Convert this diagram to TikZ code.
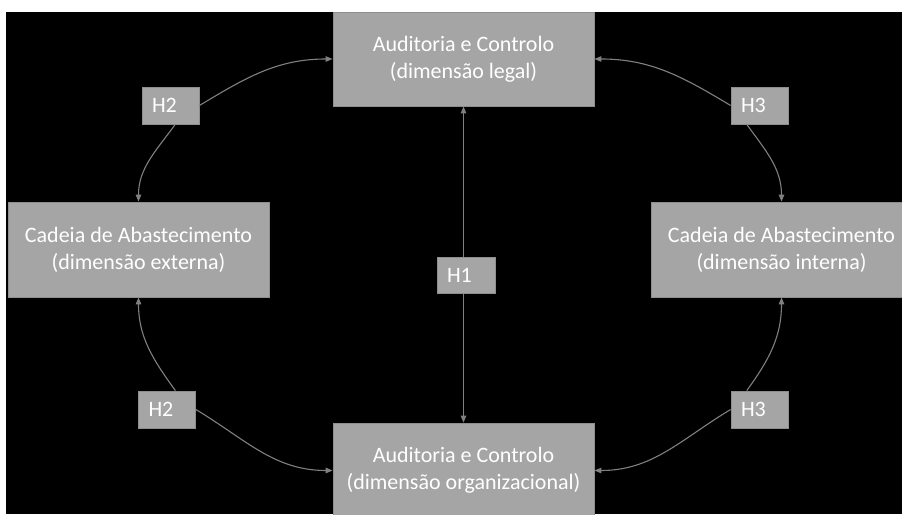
\documentclass[tikz,border=0pt]{standalone}
\usepackage{fontspec}
\setmainfont{Carlito}
\usetikzlibrary{arrows.meta}
\definecolor{boxgray}{HTML}{A5A5A5}
\definecolor{edgegray}{HTML}{8E8E8E}
\definecolor{linegray}{HTML}{808080}
\begin{document}
\begin{tikzpicture}[x=1pt,y=-1pt,
  labelfont/.style={font=\fontsize{22}{27}\selectfont},
  dimbox/.style={labelfont, draw=edgegray, line width=0.8pt, fill=boxgray, text=white,
    minimum width=261pt, minimum height=95pt, align=center, inner sep=0pt},
  hbox/.style={labelfont, draw=edgegray, line width=0.8pt, fill=boxgray, text=white,
    text width=37pt, align=left, inner xsep=10pt, inner ysep=0pt, minimum height=37pt},
  tip/.tip={Triangle[length=7pt,width=5.5pt]},
  link/.style={draw=linegray, line width=1.1pt, -tip},
  twoway/.style={draw=linegray, line width=1.1pt, tip-tip},
]
% canvas
\useasboundingbox (0,0) rectangle (902,514);
\clip (0,0) rectangle (902,514);
\fill[white] (0,0) rectangle (902,514);
\fill[black] (6,12) rectangle (902,514);

% the four dimensions
\node[dimbox, minimum height=94pt] (ac) at (463.5,59) {Auditoria e Controlo\\(dimensão legal)};
\node[dimbox] (cab) at (138.5,249.5) {Cadeia de Abastecimento\\(dimensão externa)};
\node[dimbox] (cai) at (781.5,249.5) {Cadeia de Abastecimento\\(dimensão interna)};
\node[dimbox] (ao) at (463.5,470.5) {Auditoria e Controlo\\(dimensão organizacional)};

% hypothesis labels
\node[hbox] (h2a) at (170.5,105.5) {H2};
\node[hbox] (h3a) at (759.5,105.5) {H3};
\node[hbox] (h2b) at (167,409.5) {H2};
\node[hbox] (h3b) at (759.5,409.5) {H3};

% H2 links
\draw[link] (h2a.east) to[out=31,in=180] (ac.west);
\draw[link] (h2a.284) to[out=234,in=90] (cab.north);
\draw[link] (h2b.66) to[out=126,in=-90] (cab.south);
\draw[link] (h2b.east) to[out=-31,in=180] (ao.west);

% H3 links
\draw[link] (h3a.west) to[out=149,in=0] (ac.east);
\draw[link] (h3a.236) to[out=-54,in=90] (cai.north);
\draw[link] (h3b.124) to[out=54,in=-90] (cai.south);
\draw[link] (h3b.west) to[out=-149,in=0] (ao.east);

% H1 link
\draw[twoway] (ac.south) -- (ao.north);
\node[hbox, text width=38pt, minimum height=36pt] (h1) at (466,275) {H1};
\end{tikzpicture}
\end{document}
